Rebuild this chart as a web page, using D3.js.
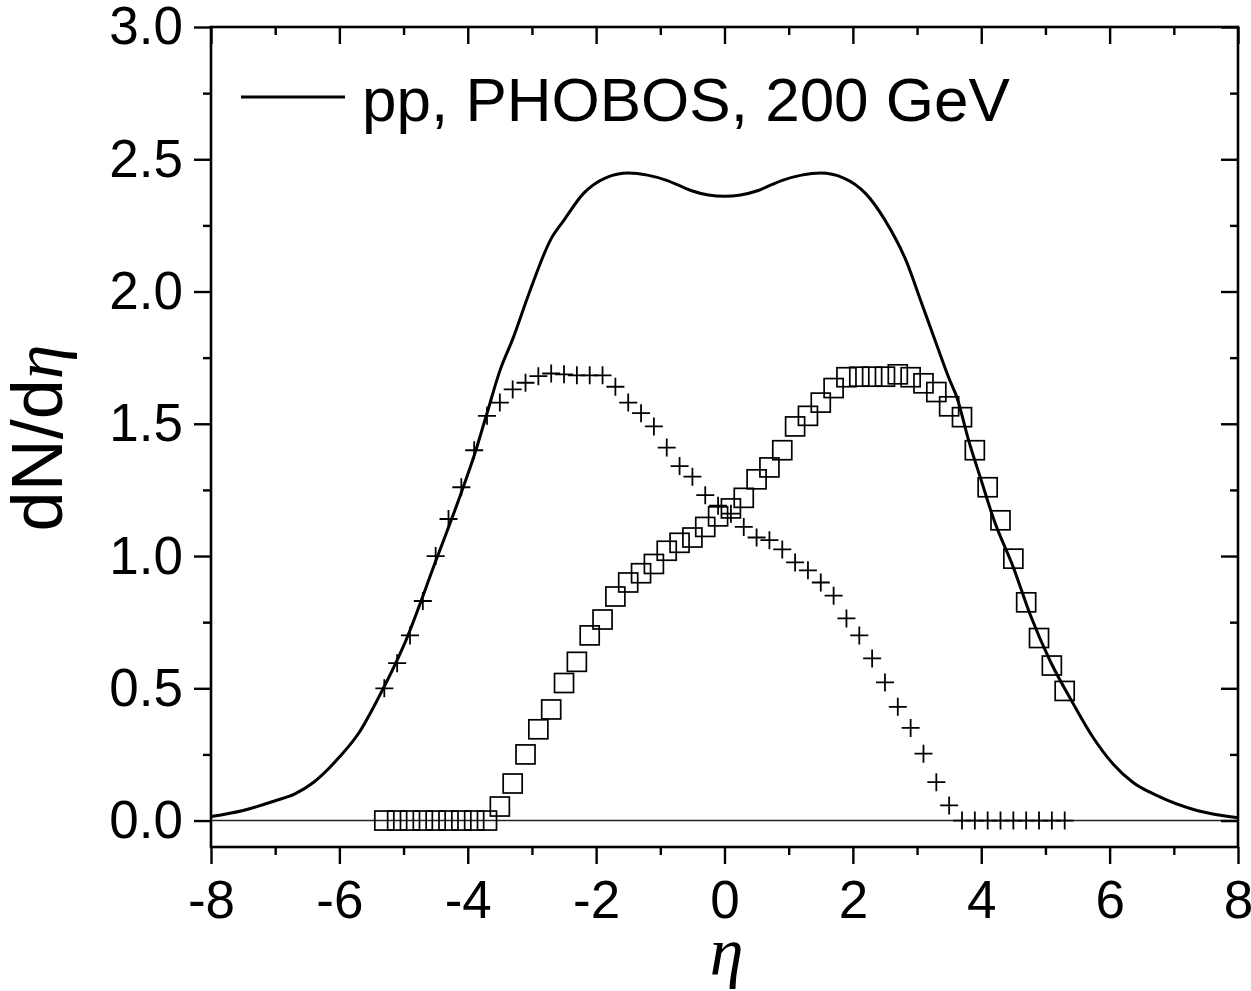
<!DOCTYPE html>
<html>
<head>
<meta charset="utf-8">
<title>dN/deta pp PHOBOS 200 GeV</title>
<style>
  body { margin: 0; background: #fff; }
  svg { display: block; }
  .tick text { font-family: "Liberation Sans", Arial, sans-serif; font-size: 53px; fill: #000; }
  .tick line { stroke: #000; stroke-width: 2.4px; }
</style>
<script src="https://d3js.org/d3.v7.min.js"></script>
</head>
<body>
<div id="chart"></div>
<script>
// solid curve: pp, PHOBOS, 200 GeV
var curveEta = [-8, -7.5, -7, -6.7, -6.4, -6, -5.7, -5.4, -5, -4.5, -4.1, -3.9, -3.7, -3.5, -3.3, -3.05, -2.7, -2.5, -2.2, -1.85, -1.5, -1.2, -0.9, -0.7, -0.5, -0.25, 0,
                0.25, 0.5, 0.7, 0.9, 1.2, 1.5, 1.85, 2.2, 2.5, 2.84, 3.05, 3.28, 3.5, 3.62, 3.8, 4, 4.2, 4.5, 4.76, 5.07, 5.43, 5.74, 6.05, 6.36, 6.74, 7.36, 8];
var curveVal = [0.015, 0.038, 0.075, 0.10, 0.145, 0.24, 0.33, 0.46, 0.66, 0.98, 1.24, 1.38, 1.54, 1.70, 1.82, 1.99, 2.20, 2.27, 2.37, 2.43, 2.448, 2.44, 2.42, 2.40, 2.38, 2.365, 2.36,
                2.365, 2.38, 2.40, 2.42, 2.44, 2.448, 2.43, 2.37, 2.27, 2.11, 1.97, 1.816, 1.67, 1.60, 1.44, 1.286, 1.135, 0.957, 0.78, 0.605, 0.443, 0.315, 0.215, 0.145, 0.094, 0.038, 0.011];

// marker positions (shared eta grid)
var pointEta = [-5.3, -5.1, -4.9, -4.7, -4.5, -4.3, -4.1, -3.9, -3.7, -3.5, -3.3, -3.1, -2.9, -2.7, -2.5, -2.3, -2.1, -1.9, -1.7, -1.5, -1.3, -1.1, -0.9, -0.7, -0.5, -0.3, -0.1,
                0.1, 0.3, 0.5, 0.7, 0.9, 1.1, 1.3, 1.5, 1.7, 1.9, 2.1, 2.3, 2.5, 2.7, 2.9, 3.1, 3.3, 3.5, 3.7, 3.9, 4.1, 4.3, 4.5, 4.7, 4.9, 5.1, 5.3];
// "+" markers
var crossVal = [0.50, 0.595, 0.70, 0.83, 1.00, 1.14, 1.26, 1.40, 1.53, 1.58, 1.63, 1.655, 1.68, 1.69, 1.687, 1.683, 1.683, 1.683, 1.64, 1.58, 1.54, 1.49, 1.41, 1.34, 1.30, 1.23, 1.19,
                1.16, 1.11, 1.07, 1.06, 1.025, 0.976, 0.946, 0.90, 0.85, 0.764, 0.70, 0.613, 0.522, 0.43, 0.35, 0.253, 0.145, 0.057, 0, 0, 0, 0, 0, 0, 0, 0, 0];
// open square markers
var squareVal = [0, 0, 0, 0, 0, 0, 0, 0, 0, 0.053, 0.14, 0.25, 0.345, 0.42, 0.52, 0.60, 0.70, 0.76, 0.847, 0.90, 0.935, 0.97, 1.02, 1.05, 1.07, 1.11, 1.15,
                 1.18, 1.22, 1.29, 1.335, 1.40, 1.49, 1.53, 1.58, 1.635, 1.676, 1.678, 1.678, 1.678, 1.687, 1.676, 1.653, 1.62, 1.566, 1.525, 1.40, 1.26, 1.135, 0.99, 0.825, 0.69, 0.586, 0.49];

var xMajor = [-8, -6, -4, -2, 0, 2, 4, 6, 8];
var xMinor = [-7, -5, -3, -1, 1, 3, 5, 7];
var yMajor = [0.0, 0.5, 1.0, 1.5, 2.0, 2.5, 3.0];
var yMinor = [0.25, 0.75, 1.25, 1.75, 2.25, 2.75];
var legendLabel = "pp, PHOBOS, 200 GeV";

var W = 1251, H = 991;
var margin = { top: 27, right: 13, bottom: 144, left: 211 };
var width = W - margin.left - margin.right,
    height = H - margin.top - margin.bottom;

var svg = d3.select("#chart").append("svg")
    .attr("width", W)
    .attr("height", H);

var g = svg.append("g")
    .attr("transform", "translate(" + margin.left + "," + margin.top + ")");

var x = d3.scaleLinear().domain([-8, 8]).range([0, width]);
var y = d3.scaleLinear().domain([-0.1, 3.0]).range([height, 0]);

// zero line
g.append("line")
    .attr("x1", 0).attr("x2", width)
    .attr("y1", y(0)).attr("y2", y(0))
    .attr("stroke", "#222")
    .attr("stroke-width", 1.4);

// curve
var curveData = curveEta.map(function(e, i) { return { e: e, v: curveVal[i] }; });
var line = d3.line()
    .x(function(d) { return x(d.e); })
    .y(function(d) { return y(d.v); })
    .curve(d3.curveMonotoneX);

g.append("path")
    .datum(curveData)
    .attr("d", line)
    .attr("fill", "none")
    .attr("stroke", "#000")
    .attr("stroke-width", 3);

// square markers
var sq = 19;
g.append("g").selectAll("rect")
    .data(pointEta.map(function(e, i) { return { e: e, v: squareVal[i] }; }))
    .enter().append("rect")
    .attr("x", function(d) { return x(d.e) - sq / 2; })
    .attr("y", function(d) { return y(d.v) - sq / 2; })
    .attr("width", sq).attr("height", sq)
    .attr("fill", "none")
    .attr("stroke", "#000")
    .attr("stroke-width", 1.7);

// cross markers
var arm = 9;
g.append("g").selectAll("path")
    .data(pointEta.map(function(e, i) { return { e: e, v: crossVal[i] }; }))
    .enter().append("path")
    .attr("transform", function(d) { return "translate(" + x(d.e) + "," + y(d.v) + ")"; })
    .attr("d", "M" + (-arm) + ",0H" + arm + "M0," + (-arm) + "V" + arm)
    .attr("fill", "none")
    .attr("stroke", "#000")
    .attr("stroke-width", 1.8);

// axes
function fmtX(d) { return String(d); }
var fmtY = d3.format(".1f");

g.append("g").call(d3.axisLeft(y).tickValues(yMajor).tickSize(17).tickPadding(11).tickFormat(fmtY).tickSizeOuter(0))
    .call(function(a) { a.select(".domain").remove(); });
g.append("g").call(d3.axisLeft(y).tickValues(yMinor).tickSize(8).tickFormat("").tickSizeOuter(0))
    .call(function(a) { a.select(".domain").remove(); });

g.append("g").attr("transform", "translate(" + width + ",0)")
    .call(d3.axisLeft(y).tickValues(yMajor).tickSize(17).tickFormat("").tickSizeOuter(0))
    .call(function(a) { a.select(".domain").remove(); });
g.append("g").attr("transform", "translate(" + width + ",0)")
    .call(d3.axisLeft(y).tickValues(yMinor).tickSize(8).tickFormat("").tickSizeOuter(0))
    .call(function(a) { a.select(".domain").remove(); });

g.append("g").attr("transform", "translate(0," + height + ")")
    .call(d3.axisBottom(x).tickValues(xMajor).tickSize(17).tickPadding(16).tickFormat(fmtX).tickSizeOuter(0))
    .call(function(a) { a.select(".domain").remove(); });
g.append("g").attr("transform", "translate(0," + height + ")")
    .call(d3.axisBottom(x).tickValues(xMinor).tickSize(8).tickFormat("").tickSizeOuter(0))
    .call(function(a) { a.select(".domain").remove(); });

g.append("g")
    .call(d3.axisBottom(x).tickValues(xMajor).tickSize(17).tickFormat("").tickSizeOuter(0))
    .call(function(a) { a.select(".domain").remove(); });
g.append("g")
    .call(d3.axisBottom(x).tickValues(xMinor).tickSize(8).tickFormat("").tickSizeOuter(0))
    .call(function(a) { a.select(".domain").remove(); });

// frame
g.append("rect")
    .attr("width", width).attr("height", height)
    .attr("fill", "none")
    .attr("stroke", "#000")
    .attr("stroke-width", 2.6);

// axis titles
svg.append("text")
    .attr("x", margin.left + x(0) + 2)
    .attr("y", 975)
    .attr("text-anchor", "middle")
    .style("font-family", "'Liberation Serif', 'DejaVu Serif', serif")
    .style("font-style", "italic")
    .style("font-size", "68px")
    .text("η");

var yt = svg.append("text")
    .attr("transform", "translate(62,438) rotate(-90)")
    .attr("text-anchor", "middle")
    .style("font-family", "'Liberation Sans', Arial, sans-serif")
    .style("font-size", "72px");
yt.append("tspan").text("dN/d");
yt.append("tspan")
    .style("font-family", "'Liberation Serif', 'DejaVu Serif', serif")
    .style("font-style", "italic")
    .style("font-size", "70px")
    .text("η");

// legend
svg.append("line")
    .attr("x1", 241).attr("x2", 345)
    .attr("y1", 97).attr("y2", 97)
    .attr("stroke", "#000")
    .attr("stroke-width", 3);
svg.append("text")
    .attr("x", 362).attr("y", 121)
    .style("font-family", "'Liberation Sans', Arial, sans-serif")
    .style("font-size", "62px")
    .text(legendLabel);
</script>
</body>
</html>
